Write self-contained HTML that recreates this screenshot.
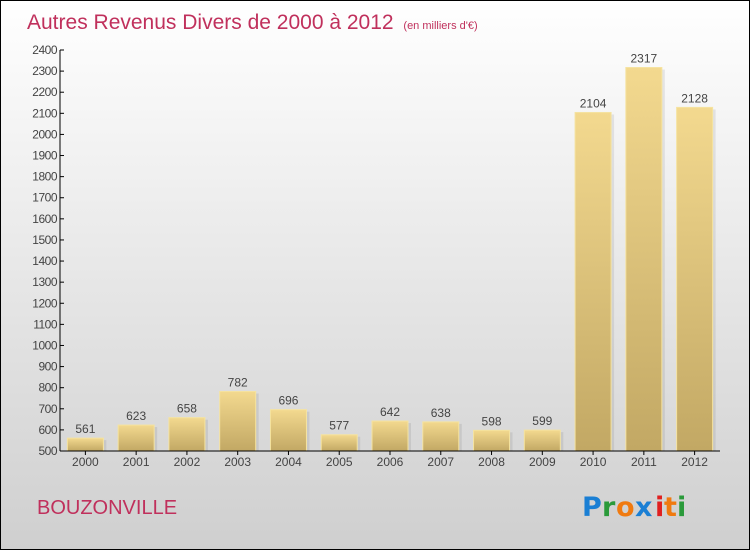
<!DOCTYPE html>
<html><head><meta charset="utf-8"><style>
body{margin:0;}
#c{width:750px;height:550px;position:relative;font-family:"Liberation Sans",sans-serif;}
</style></head><body>
<div id="c">
<svg id="s" width="750" height="550" xmlns="http://www.w3.org/2000/svg">
<defs>
<linearGradient id="bg" x1="0" y1="0" x2="0" y2="1"><stop offset="0" stop-color="#ffffff"/><stop offset="1" stop-color="#cfcfcf"/></linearGradient>
<linearGradient id="bar" x1="0" y1="0" x2="0" y2="1"><stop offset="0" stop-color="#f3d98f"/><stop offset="1" stop-color="#c2a864"/></linearGradient>
</defs>
<rect x="0.5" y="0.5" width="749" height="549" fill="url(#bg)" stroke="#000"/>
<text x="27" y="29" font-size="21" fill="#c0305c">Autres Revenus Divers de 2000 à 2012 <tspan font-size="11" dx="4">(en milliers d'€)</tspan></text>
<text x="37" y="514" font-size="20" fill="#c0305c">BOUZONVILLE</text>
<g font-size="27" font-weight="bold" font-family="'DejaVu Sans',sans-serif">
<text x="582" y="516" fill="#1a7fd4">P</text><text x="602" y="516" fill="#2a9a3a">r</text><text x="616" y="516" fill="#f07a10">o</text><text x="635" y="516" fill="#1a7fd4">x</text><text x="655" y="516" fill="#e02020">i</text><text x="664" y="516" fill="#f07a10">t</text><text x="677" y="516" fill="#2a9a3a">i</text>
</g>
<g id="g"></g>
</svg>
</div>
<script>
const years=["2000","2001","2002","2003","2004","2005","2006","2007","2008","2009","2010","2011","2012"];
const values=[561,623,658,782,696,577,642,638,598,599,2104,2317,2128];
const ticks=[500,600,700,800,900,1000,1100,1200,1300,1400,1500,1600,1700,1800,1900,2000,2100,2200,2300,2400];
const NS="http://www.w3.org/2000/svg";
const g=document.getElementById('g');
const x0=60,x1=720,yb=451,yt=50,vmin=500,vmax=2400;
const y=v=>yb-(v-vmin)/(vmax-vmin)*(yb-yt);
const step=(x1-x0)/years.length;
const xc=i=>x0+step*(i+0.5);
function mk(t,a){const e=document.createElementNS(NS,t);for(const k in a)e.setAttribute(k,a[k]);g.appendChild(e);return e;}
values.forEach((v,i)=>{
 const bw=36;
 const sh=mk('rect',{x:xc(i)-bw/2+3,y:y(v)+2,width:bw,height:yb-y(v)-2,fill:'#000',opacity:0.08});
 
 
 const r=mk('rect',{x:xc(i)-bw/2,y:y(v),width:bw,height:yb-y(v),fill:'url(#bar)',stroke:'#f5e3a0','stroke-width':1});
 
 
 const t=mk('text',{x:xc(i),y:y(v)-5,'text-anchor':'middle','font-size':12,fill:'#444'});
 t.textContent=v;
 
 
 const tx=mk('text',{x:xc(i),y:yb+15,'text-anchor':'middle','font-size':12,fill:'#444'});
 tx.textContent=years[i];
 
 
 const tk=mk('line',{x1:xc(i),x2:xc(i),y1:yb,y2:yb+4,stroke:'#000'});
 
 
});
ticks.forEach(v=>{
 const l=mk('line',{x1:x0,x2:x0+4,y1:y(v),y2:y(v),stroke:'#000'});
 
 
 const t=mk('text',{x:x0-3,y:y(v)+4,'text-anchor':'end','font-size':12,fill:'#444','letter-spacing':-0.5});
 t.textContent=v;
 
 
});
const ya=mk('line',{x1:x0,x2:x0,y1:yt,y2:yb,stroke:'#000'});


const xa=mk('line',{x1:x0,x2:x1,y1:yb,y2:yb,stroke:'#000'});


</script>
</body></html>
